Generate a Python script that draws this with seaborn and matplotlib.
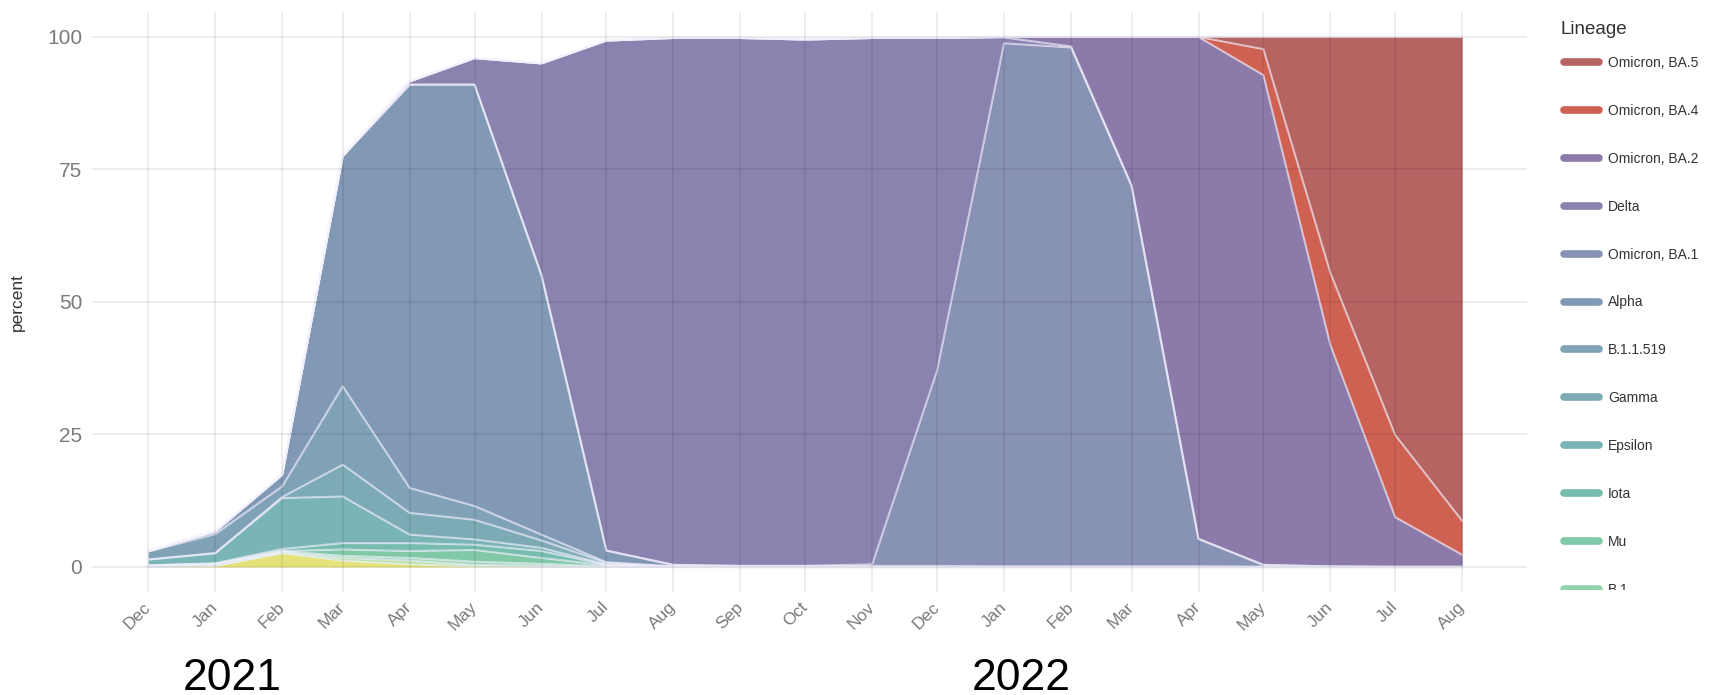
import numpy as np
import pandas as pd
import matplotlib
matplotlib.use("Agg")
import matplotlib.pyplot as plt
import matplotlib.dates as mdates
from matplotlib.lines import Line2D
from matplotlib.transforms import Bbox, TransformedBbox, IdentityTransform
import seaborn as sns

# ---------------- data ----------------
months = ["2020-12-01", "2021-01-01", "2021-02-01", "2021-03-01", "2021-04-01",
          "2021-05-01", "2021-06-01", "2021-07-01", "2021-08-01", "2021-09-01",
          "2021-10-01", "2021-11-01", "2021-12-01", "2022-01-01", "2022-02-01",
          "2022-03-01", "2022-04-01", "2022-05-01", "2022-06-01", "2022-07-01",
          "2022-08-01"]

beta     = [0, 0.2, 2.6, 1.2, 0.5, 0.1, 0, 0, 0, 0, 0, 0, 0, 0, 0, 0, 0, 0, 0, 0, 0]
eta      = [0, 0, 0.2, 0.5, 0.7, 0.3, 0.2, 0, 0, 0, 0, 0, 0, 0, 0, 0, 0, 0, 0, 0, 0]
b1       = [0.3, 0.4, 0.2, 0.4, 0.5, 0.6, 0.4, 0.1, 0, 0, 0, 0, 0, 0, 0, 0, 0, 0, 0, 0, 0]
mu       = [0, 0, 0, 1.2, 1.3, 2.2, 1.1, 0.2, 0, 0, 0, 0, 0, 0, 0, 0, 0, 0, 0, 0, 0]
iota     = [0, 0.1, 0.4, 1.2, 1.5, 1.0, 1.3, 0.1, 0, 0, 0, 0, 0, 0, 0, 0, 0, 0, 0, 0, 0]
epsilon  = [1.1, 1.9, 9.6, 8.8, 1.6, 1.0, 0.6, 0.1, 0, 0, 0, 0, 0, 0, 0, 0, 0, 0, 0, 0, 0]
gamma    = [0, 0, 0.2, 6.0, 4.1, 3.7, 1.4, 0.3, 0.1, 0, 0, 0, 0, 0, 0, 0, 0, 0, 0, 0, 0]
b11519   = [1.5, 3.6, 2.0, 14.8, 4.7, 2.6, 1.1, 0.1, 0, 0, 0, 0, 0, 0, 0, 0, 0, 0, 0, 0, 0]
alpha    = [0.1, 0.5, 2.2, 43.4, 76.1, 79.5, 48.9, 2.2, 0.3, 0.2, 0.2, 0.2, 0.2, 0.1, 0.1,
            0.1, 0.1, 0, 0, 0, 0]
ba1      = [0, 0, 0, 0, 0, 0, 0, 0, 0, 0, 0, 0.3, 36.8, 98.7, 97.9, 71.8, 5.2, 0.4, 0.1, 0, 0]
delta    = [0, 0, 0, 0, 0.6, 5.0, 40.0, 96.2, 99.4, 99.6, 99.3, 99.3, 62.8, 1.1, 0.2, 0.1,
            0, 0, 0, 0, 0]
ba2      = [0, 0, 0, 0, 0, 0, 0, 0, 0, 0, 0, 0, 0, 0.1, 1.8, 28.0, 94.7, 92.4, 41.8, 9.4, 2.3]
ba4      = [0, 0, 0, 0, 0, 0, 0, 0, 0, 0, 0, 0, 0, 0, 0, 0, 0, 4.9, 13.6, 15.5, 6.4]
ba5      = [0, 0, 0, 0, 0, 0, 0, 0, 0, 0, 0, 0, 0, 0, 0, 0, 0, 2.3, 44.5, 75.1, 91.3]

# stack order bottom -> top
lineages = ["Beta", "Eta", "B.1", "Mu", "Iota", "Epsilon", "Gamma", "B.1.1.519",
            "Alpha", "Omicron, BA.1", "Delta", "Omicron, BA.2", "Omicron, BA.4",
            "Omicron, BA.5"]
series = [beta, eta, b1, mu, iota, epsilon, gamma, b11519, alpha, ba1, delta, ba2,
          ba4, ba5]
colors = ["#e6e27a", "#b8e2a2", "#92d3ad", "#80c8a6", "#77bdae", "#79b4b7",
          "#7caab5", "#7fa2b7", "#8299b5", "#8892b5", "#8a83b0", "#8c7aaa",
          "#cf6153", "#b56462"]

year_labels = ["2021", "2022"]
year_dates = ["2021-01-09", "2022-01-09"]

# ---------------- figure ----------------
sns.set_theme(style="white")
plt.rcParams["font.family"] = ["Liberation Sans", "DejaVu Sans"]

dates = pd.to_datetime(months)
fig = plt.figure(figsize=(17.27, 6.95), dpi=100)
ax = fig.add_axes([92 / 1727, 1 - 592 / 695, (1527 - 92) / 1727, (592 - 12) / 695])

vals = np.array(series, dtype=float)
cum = np.cumsum(vals, axis=0)
base = np.vstack([np.zeros(len(dates)), cum[:-1]])
for i, name in enumerate(lineages):
    ax.fill_between(dates, base[i], cum[i], color=colors[i], linewidth=0, zorder=1)

long = pd.DataFrame({
    "date": np.tile(dates, len(lineages)),
    "top": cum.ravel(),
    "lineage": np.repeat(lineages, len(dates)),
})
sns.lineplot(data=long, x="date", y="top", hue="lineage", units="lineage",
             estimator=None, palette={n: "#f4f2ff" for n in lineages},
             linewidth=1.5, alpha=0.6, legend=False, ax=ax, zorder=2)

ax.set_xlim(pd.Timestamp("2020-11-05"), pd.Timestamp("2022-08-31"))
ax.set_ylim(-4.72, 104.7)
ax.set_yticks([0, 25, 50, 75, 100])
ax.xaxis.set_major_locator(mdates.MonthLocator())
ax.xaxis.set_major_formatter(mdates.DateFormatter("%b"))
ax.set_axisbelow(False)
ax.grid(True, color="black", alpha=0.09, linewidth=1.1)
for s in ax.spines.values():
    s.set_visible(False)
ax.tick_params(axis="both", length=0, colors="#7a7a7a")
ax.tick_params(axis="y", pad=7, labelsize=15)
ax.tick_params(axis="x", pad=9, labelsize=12.5)
for lab in ax.get_xticklabels():
    lab.set_rotation(45)
    lab.set_ha("right")
    lab.set_va("center")
    lab.set_rotation_mode("anchor")
ax.set_xlabel("")
ax.set_ylabel("percent", fontsize=12.5, color="#333333")
ax.yaxis.set_label_coords(-0.047, 0.5)

# year annotations under the axis
for lab, d in zip(year_labels, year_dates):
    xd = mdates.date2num(pd.Timestamp(d))
    xf = fig.transFigure.inverted().transform(ax.transData.transform((xd, 0)))[0]
    fig.text(xf, 1 - 690 / 695, lab, ha="center", va="baseline", fontsize=32,
             color="black", family=["Liberation Sans Narrow", "Liberation Sans", "DejaVu Sans"])

# legend (top of stack first), clipped like a scrolling legend box
fig.text(1560 / 1727, 1 - 30 / 695, "Lineage", ha="left", va="center",
         fontsize=13.5, color="#333333")
handles = [Line2D([0], [0], color=colors[i], lw=5.5) for i in range(len(lineages))][::-1]
labels = lineages[::-1]
leg = fig.legend(handles, labels, loc="upper left",
                 bbox_to_anchor=(1564 / 1727, 1 - 56 / 695),
                 frameon=False, fontsize=10, labelspacing=2.44, handlelength=2.5,
                 handletextpad=0.68, borderpad=0, borderaxespad=0)
for t in leg.get_texts():
    t.set_color("#333333")
clip = TransformedBbox(Bbox.from_extents(1540, 695 - 590, 1727, 695), IdentityTransform())
for a in leg.findobj():
    a.set_clip_box(clip)
    a.set_clip_on(True)

fig.savefig("out.png", dpi=100)
